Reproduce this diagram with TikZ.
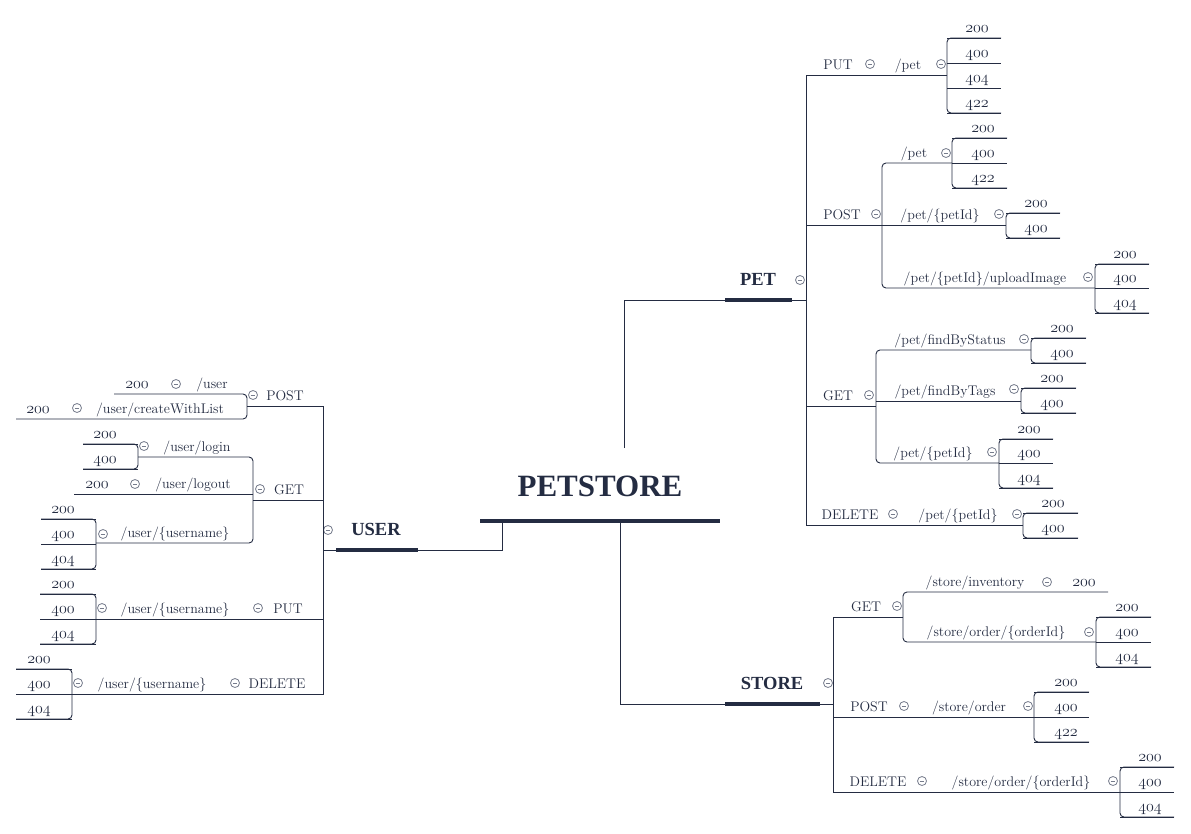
\RequirePackage{fix-cm}
\documentclass[tikz,border=0pt]{standalone}
\usepackage{fontspec}
\newfontfamily\titlefont{Liberation Serif}
\definecolor{navy}{RGB}{36,44,66}
\definecolor{cgray}{RGB}{118,124,140}
\newcommand\osn[1]{$\mathnormal{#1}$}
\newcommand\sgrp[6]{%
  \draw[conn, rounded corners=4pt] (#2,#4) -- (#1,#4) -- (#1,#5) -- (#2,#5);
  \foreach \yy/\lab in {#6} {\draw[conn] (#1,\yy) -- (#2,\yy);
    \node[num] (n-#1-\yy) at (#3,\yy-6) {\osn{\lab}};}%
}
\begin{document}
\begin{tikzpicture}[x=1pt,y=-1pt,
  conn/.style={draw=navy, line width=0.9pt},
  bar/.style={draw=navy, line width=4.8pt},
  lab/.style={anchor=base, inner sep=0pt, text=navy, font=\fontsize{14}{16}\selectfont},
  num/.style={anchor=base, inner sep=0pt, text=navy, font=\fontsize{16}{18}\selectfont},
  ttl/.style={anchor=base, inner sep=0pt, text=navy, font=\titlefont\bfseries\fontsize{18.5}{20}\selectfont},
  maint/.style={anchor=base, inner sep=0pt, text=navy, font=\titlefont\bfseries\fontsize{31}{34}\selectfont},
  coll/.style={circle, draw=cgray, line width=0.8pt, minimum size=9pt, inner sep=0pt,
    path picture={\draw[cgray, line width=0.8pt] ([xshift=-2.4pt]path picture bounding box.center) -- ([xshift=2.4pt]path picture bounding box.center);}}
]
\fill[white] (0,0) rectangle (1191,833);
\useasboundingbox (0,0) rectangle (1191,833);

% ---------- root ----------
\node[maint] (root) at (600,496) {PETSTORE};
\draw[bar] (480,521) -- (720,521);

% ---------- USER ----------
\node[ttl] (user) at (376,535) {USER};
\node[coll] (cuser) at (328,530) {};
\draw[bar] (336,550) -- (418,550);
\draw[conn] (502,521) -- (502,550) -- (418,550);
\draw[conn] (336,550) -- (323,550);
\draw[conn] (247,406) -- (323,406) -- (323,694) -- (72,694);
\draw[conn] (323,500) -- (253,500);
\draw[conn] (323,619) -- (96,619);
% POST
\node[lab] (upost) at (285,400) {POST};
\node[coll] (cupost) at (253,395) {};
\draw[conn, rounded corners=4pt] (114,394) -- (247,394) -- (247,419) -- (16,419);
\node[lab] (uuser) at (212,388) {/user};
\node[coll] (cuuser) at (176,384) {};
\node[num] (uuser200) at (137,388) {\osn{200}};
\node[lab] (ucwl) at (160,413) {/user/createWithList};
\node[coll] (cucwl) at (77,408) {};
\node[num] (ucwl200) at (38,413) {\osn{200}};
% GET
\node[lab] (uget) at (289,494) {GET};
\node[coll] (cuget) at (260,489) {};
\draw[conn, rounded corners=4pt] (138,457) -- (253,457) -- (253,543) -- (96,543);
\draw[conn] (253,494) -- (74,494);
\node[lab] (ulogin) at (197,451) {/user/login};
\node[coll] (culogin) at (144,446) {};
\sgrp{138}{83}{105}{444}{469}{444/200,469/400}
\node[lab] (ulogout) at (193,488) {/user/logout};
\node[coll] (culogout) at (135,484) {};
\node[num] (ulogout200) at (97,488) {\osn{200}};
\node[lab] (ugetname) at (175,537) {/user/\{username\}};
\node[coll] (cugetname) at (103,534) {};
\sgrp{96}{41}{63}{519}{569}{519/200,544/400,569/404}
% PUT
\node[lab] (uput) at (288,613) {PUT};
\node[coll] (cuput) at (258,608) {};
\node[lab] (uputname) at (175,613) {/user/\{username\}};
\node[coll] (cuputname) at (102,608) {};
\sgrp{96}{40}{63}{594}{644}{594/200,619/400,644/404}
% DELETE
\node[lab] (udel) at (277,688) {DELETE};
\node[coll] (cudel) at (235,683) {};
\node[lab] (udelname) at (152,688) {/user/\{username\}};
\node[coll] (cudelname) at (78,683) {};
\sgrp{72}{16}{39}{669}{719}{669/200,694/400,719/404}

% ---------- PET ----------
\draw[conn] (624,448) -- (624,300) -- (725,300);
\draw[bar] (725,300) -- (792,300);
\draw[conn] (792,300) -- (806,300);
\node[ttl] (pet) at (758,285) {PET};
\node[coll] (cpet) at (800,280) {};
\draw[conn] (947,75) -- (806,75) -- (806,525) -- (1023,525);
\draw[conn] (806,225) -- (882,225);
\draw[conn] (806,406) -- (876,406);
% PUT
\node[lab] (pput) at (838,69) {PUT};
\node[coll] (cpput) at (870,64) {};
\node[lab] (pputpet) at (908,69) {/pet};
\node[coll] (cpputpet) at (941,64) {};
\sgrp{947}{1001}{977}{38}{113}{38/200,63/400,88/404,113/422}
% POST
\node[lab] (ppost) at (842,219) {POST};
\node[coll] (cppost) at (876,214) {};
\draw[conn, rounded corners=4pt] (952,163) -- (882,163) -- (882,288) -- (1095,288);
\draw[conn] (882,225) -- (1006,225);
\node[lab] (ppostpet) at (914,157) {/pet};
\node[coll] (cppostpet) at (946,153) {};
\sgrp{952}{1007}{983}{138}{188}{138/200,163/400,188/422}
\node[lab] (ppostid) at (940,219) {/pet/\{petId\}};
\node[coll] (cppostid) at (999,214) {};
\sgrp{1006}{1060}{1036}{213}{238}{213/200,238/400}
\node[lab] (pupload) at (985,282) {/pet/\{petId\}/uploadImage};
\node[coll] (cpupload) at (1088,277) {};
\sgrp{1095}{1149}{1125}{264}{313}{264/200,288/400,313/404}
% GET
\node[lab] (pget) at (838,400) {GET};
\node[coll] (cpget) at (869,395) {};
\draw[conn, rounded corners=4pt] (1031,350) -- (876,350) -- (876,463) -- (999,463);
\draw[conn] (876,401) -- (1021,401);
\node[lab] (pstatus) at (950,344) {/pet/findByStatus};
\node[coll] (cpstatus) at (1024,339) {};
\sgrp{1031}{1086}{1062}{338}{363}{338/200,363/400}
\node[lab] (ptags) at (945,395) {/pet/findByTags};
\node[coll] (cptags) at (1014,389) {};
\sgrp{1021}{1076}{1052}{388}{413}{388/200,413/400}
\node[lab] (pgetid) at (933,457) {/pet/\{petId\}};
\node[coll] (cpgetid) at (992,452) {};
\sgrp{999}{1053}{1029}{439}{488}{439/200,463/400,488/404}
% DELETE
\node[lab] (pdel) at (850,519) {DELETE};
\node[coll] (cpdel) at (893,514) {};
\node[lab] (pdelid) at (958,519) {/pet/\{petId\}};
\node[coll] (cpdelid) at (1017,514) {};
\sgrp{1023}{1078}{1053}{513}{538}{513/200,538/400}

% ---------- STORE ----------
\draw[conn] (620,521) -- (620,704) -- (725,704);
\draw[bar] (725,704) -- (820,704);
\draw[conn] (820,704) -- (833,704);
\node[ttl] (store) at (772,689) {STORE};
\node[coll] (cstore) at (828,683) {};
\draw[conn] (903,617) -- (833,617) -- (833,792) -- (1120,792);
\draw[conn] (833,717) -- (1034,717);
% GET
\node[lab] (sget) at (866,611) {GET};
\node[coll] (csget) at (897,606) {};
\draw[conn, rounded corners=4pt] (1108,592) -- (903,592) -- (903,642) -- (1096,642);
\node[lab] (sinv) at (975,586) {/store/inventory};
\node[coll] (csinv) at (1047,582) {};
\node[num] (sinv200) at (1084,586) {\osn{200}};
\node[lab] (sgetord) at (996,636) {/store/order/\{orderId\}};
\node[coll] (csgetord) at (1089,632) {};
\sgrp{1096}{1151}{1127}{617}{667}{617/200,642/400,667/404}
% POST
\node[lab] (spost) at (869,711) {POST};
\node[coll] (cspost) at (904,706) {};
\node[lab] (sorder) at (969,711) {/store/order};
\node[coll] (csorder) at (1028,706) {};
\sgrp{1034}{1089}{1066}{692}{742}{692/200,717/400,742/422}
% DELETE
\node[lab] (sdel) at (878,786) {DELETE};
\node[coll] (csdel) at (922,781) {};
\node[lab] (sdelord) at (1021,786) {/store/order/\{orderId\}};
\node[coll] (csdelord) at (1113,781) {};
\sgrp{1120}{1174}{1150}{767}{817}{767/200,792/400,817/404}
\end{tikzpicture}
\end{document}
